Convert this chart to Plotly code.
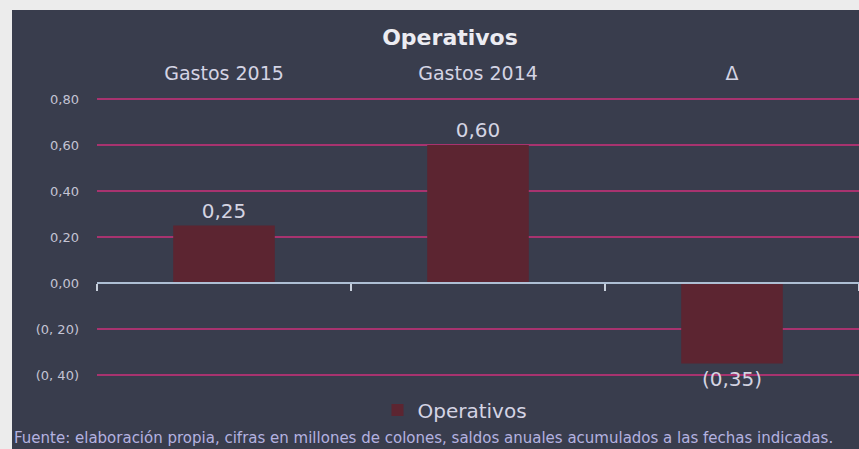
import plotly.graph_objects as go

categories = ["Gastos 2015", "Gastos 2014", "Δ"]
values = [0.25, 0.60, -0.35]
series_name = "Operativos"
tick_vals = [0.8, 0.6, 0.4, 0.2, 0.0, -0.2, -0.4]
tick_text = ["0,80", "0,60", "0,40", "0,20", "0,00", "(0, 20)", "(0, 40)"]
title_text = "Operativos"
footer_text = "Fuente: elaboración propia, cifras en millones de colones, saldos anuales acumulados a las fechas indicadas."


def fmt(v):
    s = f"{abs(v):.2f}".replace(".", ",")
    return f"({s})" if v < 0 else s


W, H = 859, 449
ZERO_PX, PX_PER_UNIT = 283, 230
L, R, T, B = 97, 0, 96, 51
Y_RANGE = [-(H - B - ZERO_PX) / PX_PER_UNIT, (ZERO_PX - T) / PX_PER_UNIT]
FONT = "DejaVu Sans, Verdana, sans-serif"
BG = "#393d4d"

pw = W - L - R
ph = H - T - B


def px_x(x):
    return (x - L) / pw


def px_y(y):
    return (H - B - y) / ph


fig = go.Figure()
fig.add_trace(go.Bar(
    x=categories, y=values, name=series_name,
    marker=dict(color="#5c2531", line=dict(width=0)),
    width=0.4,
    text=[fmt(v) for v in values], textposition="outside",
    textfont=dict(size=20, color="#d4d4e2", family=FONT),
    cliponaxis=False, showlegend=True,
))
# helper trace for the zero-line axis
fig.add_trace(go.Scatter(x=[0], y=[0], xaxis="x2", yaxis="y",
                         mode="markers", marker=dict(opacity=0),
                         showlegend=False, hoverinfo="skip"))

fig.update_layout(
    width=W, height=H,
    margin=dict(l=L, r=R, t=T, b=B, autoexpand=False),
    paper_bgcolor="#ececec",
    plot_bgcolor="rgba(0,0,0,0)",
    font=dict(family=FONT, color="#d0d0de"),
    title=dict(text="<b>" + title_text + "</b>", x=450 / W, xanchor="center",
               xref="container", y=1 - 37 / H, yanchor="middle",
               font=dict(size=22, color="#ececf2", family=FONT)),
    xaxis=dict(type="category", side="top", showgrid=False, zeroline=False,
               showline=False, ticks="", ticklabelstandoff=11,
               automargin=False,
               tickfont=dict(size=19, color="#d4d4e4", family=FONT),
               range=[-0.5, 2.5]),
    xaxis2=dict(overlaying="x", anchor="free",
                position=(0 - Y_RANGE[0]) / (Y_RANGE[1] - Y_RANGE[0]),
                range=[-0.5, 2.5], tickvals=[-0.5, 0.5, 1.5, 2.5],
                showticklabels=False, showgrid=False, zeroline=False,
                automargin=False,
                showline=True, linecolor="#aebfd4", linewidth=1.5,
                ticks="outside", ticklen=7, tickcolor="#c8d0dc", tickwidth=1.5),
    yaxis=dict(range=Y_RANGE, tickvals=tick_vals, ticktext=tick_text,
               showgrid=True, gridcolor="#a8336f", gridwidth=1.5,
               zeroline=False, showline=False, ticks="",
               ticklabelstandoff=17, automargin=False,
               tickfont=dict(size=13, color="#c4c4d4", family=FONT)),
    legend=dict(orientation="h", x=px_x(455), xanchor="center",
                y=px_y(410), yanchor="middle",
                font=dict(size=20, color="#d4d4e4", family=FONT),
                bgcolor="rgba(0,0,0,0)"),
    bargap=0.6,
)

fig.add_shape(type="rect", xref="paper", yref="paper",
              x0=px_x(12), x1=px_x(W + 5), y0=px_y(10), y1=px_y(H + 5),
              fillcolor=BG, line=dict(width=0), layer="below")

fig.add_annotation(text=footer_text, xref="paper", yref="paper",
                   x=px_x(12), y=px_y(438), xanchor="left", yanchor="middle",
                   showarrow=False,
                   font=dict(size=15, color="#b4b2e0", family=FONT))

fig.write_html("out.html", config={"displayModeBar": False},
               post_script="document.body.style.margin='0';")
